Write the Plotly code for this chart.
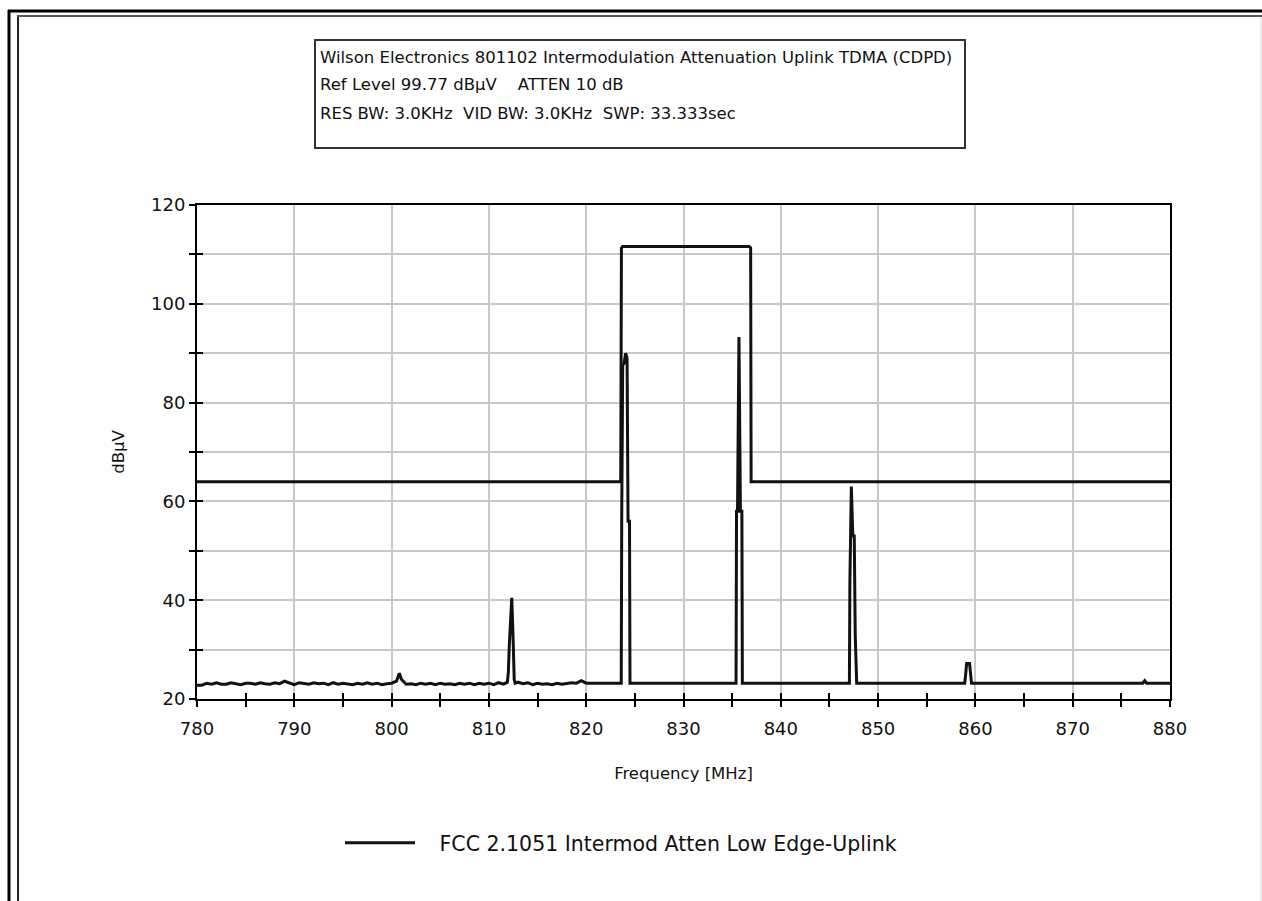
import plotly.graph_objects as go

W, H = 1262, 901

# ---------------- data ----------------
SPEC_FREQ = [
    780.0, 780.5, 781.0, 781.5, 782.0, 782.5, 783.0, 783.5, 784.0, 784.5,
    785.0, 785.5, 786.0, 786.5, 787.0, 787.5, 788.0, 788.5, 789.0, 789.5,
    790.0, 790.5, 791.0, 791.5, 792.0, 792.5, 793.0, 793.5, 794.0, 794.5,
    795.0, 795.5, 796.0, 796.5, 797.0, 797.5, 798.0, 798.5, 799.0, 799.5,
    800.0, 800.5, 800.8, 801.0, 801.5, 802.0, 802.5, 803.0, 803.5, 804.0,
    804.5, 805.0, 805.5, 806.0, 806.5, 807.0, 807.5, 808.0, 808.5, 809.0,
    809.5, 810.0, 810.5, 811.0, 811.5, 811.9,
    812.0, 812.1, 812.2, 812.35, 812.5, 812.6, 812.7,
    813.0, 813.5, 814.0, 814.5, 815.0, 815.5, 816.0, 816.5, 817.0, 817.5,
    818.0, 818.5, 819.0, 819.5, 820.0, 821.0, 822.0, 823.0, 823.6,
    823.65, 823.75, 823.9, 824.05, 824.2, 824.3, 824.45, 824.5,
    825.0, 830.0, 835.4,
    835.45, 835.55, 835.7, 835.85, 836.0, 836.05,
    836.5, 840.0, 845.0, 847.05,
    847.1, 847.25, 847.4, 847.55, 847.65, 847.75, 847.8,
    850.0, 855.0, 858.9, 859.0, 859.1, 859.4, 859.5, 859.6,
    865.0, 870.0, 877.2, 877.4, 877.6, 880.0,
]
SPEC_LEVEL = [
    22.8, 22.8, 23.2, 23.0, 23.3, 23.0, 23.0, 23.3, 23.1, 22.9,
    23.2, 23.2, 23.0, 23.3, 23.1, 23.0, 23.3, 23.1, 23.6, 23.2,
    22.9, 23.3, 23.2, 23.0, 23.3, 23.1, 23.2, 22.9, 23.3, 23.0,
    23.2, 23.1, 22.9, 23.2, 23.0, 23.3, 23.0, 23.2, 22.9, 23.1,
    23.2, 23.6, 25.2, 24.0, 23.0, 23.1, 22.9, 23.2, 23.0, 23.2,
    22.9, 23.2, 23.0, 23.1, 22.9, 23.2, 23.0, 23.2, 22.9, 23.2,
    23.0, 23.2, 22.9, 23.3, 23.0, 23.4,
    25.5, 31.0, 36.0, 40.5, 31.5, 24.0, 23.2,
    23.4, 23.1, 23.3, 22.9, 23.2, 23.0, 23.1, 22.9, 23.2, 23.0,
    23.1, 23.3, 23.2, 23.7, 23.2, 23.2, 23.2, 23.2, 23.2,
    56.0, 87.5, 88.0, 90.0, 89.0, 56.0, 56.0, 23.2,
    23.2, 23.2, 23.2,
    58.0, 58.0, 93.3, 58.0, 58.0, 23.2,
    23.2, 23.2, 23.2, 23.2,
    43.5, 63.0, 53.0, 53.0, 33.0, 24.0, 23.2,
    23.2, 23.2, 23.2, 25.0, 27.2, 27.2, 25.0, 23.2,
    23.2, 23.2, 23.2, 23.7, 23.2, 23.2,
]
MASK_FREQ = [780.0, 823.55, 823.62, 823.75, 836.75, 836.9, 836.95, 880.0]
MASK_LEVEL = [64.0, 64.0, 111.3, 111.6, 111.6, 111.3, 64.0, 64.0]

SERIES_NAME = "FCC 2.1051 Intermod Atten Low Edge-Uplink"
TITLE_LINES = [
    "Wilson Electronics 801102 Intermodulation Attenuation Uplink TDMA (CDPD)",
    "Ref Level 99.77 dB\u00b5V&nbsp;&nbsp;&nbsp;&nbsp;ATTEN 10 dB",
    "RES BW: 3.0KHz&nbsp;&nbsp;VID BW: 3.0KHz&nbsp;&nbsp;SWP: 33.333sec",
]
X_TITLE = "Frequency [MHz]"
Y_TITLE = "dB\u00b5V"

# ---------------- layout helpers (pixels -> paper) ----------------
def px(x):
    return x / W

def py(y):
    return 1 - y / H

FONT = "DejaVu Sans"
INK = "#111111"
GRID = "#c8c8c8"

fig = go.Figure()
fig.add_trace(go.Scatter(x=MASK_FREQ, y=MASK_LEVEL, mode="lines",
                         line=dict(color=INK, width=3),
                         showlegend=False, hoverinfo="skip"))
fig.add_trace(go.Scatter(x=SPEC_FREQ, y=SPEC_LEVEL, mode="lines",
                         name="&nbsp;&nbsp;&nbsp;" + SERIES_NAME,
                         line=dict(color=INK, width=3)))
# invisible single-point trace that activates the companion tick axes
fig.add_trace(go.Scatter(x=[MASK_FREQ[0]], y=[MASK_LEVEL[0]], xaxis="x2", yaxis="y2",
                         mode="lines", line=dict(width=0), showlegend=False,
                         hoverinfo="skip"))

shapes = [
    # outer frame
    dict(type="line", xref="paper", yref="paper", x0=px(9), x1=px(9), y0=py(10), y1=py(905),
         line=dict(color="black", width=3)),
    dict(type="line", xref="paper", yref="paper", x0=px(8), x1=px(1265), y0=py(11), y1=py(11),
         line=dict(color="black", width=3)),
    dict(type="line", xref="paper", yref="paper", x0=px(18), x1=px(18), y0=py(15), y1=py(905),
         line=dict(color="#222222", width=2)),
    dict(type="line", xref="paper", yref="paper", x0=px(17), x1=px(1265), y0=py(16), y1=py(16),
         line=dict(color="#555555", width=2)),
    dict(type="line", xref="paper", yref="paper", x0=px(1261), x1=px(1261), y0=py(17), y1=py(905),
         line=dict(color="#d8d8d8", width=1)),
    # title box
    dict(type="rect", xref="paper", yref="paper", x0=px(315), x1=px(965), y0=py(148), y1=py(40),
         line=dict(color="#333333", width=2), fillcolor="white"),
]

annotations = []
for txt, yy in zip(TITLE_LINES, [58, 85, 113]):
    annotations.append(dict(text=txt, xref="paper", yref="paper", x=px(318), y=py(yy),
                            xanchor="left", yanchor="middle", showarrow=False,
                            font=dict(family=FONT, size=16.5, color=INK)))

tick_common = dict(ticklen=6, tickwidth=2, tickcolor="black")

fig.update_layout(
    width=W, height=H,
    margin=dict(l=0, r=0, t=0, b=0),
    paper_bgcolor="white", plot_bgcolor="white",
    font=dict(family=FONT, size=16, color=INK),
    shapes=shapes, annotations=annotations,
    showlegend=True,
    legend=dict(x=px(340), y=py(843), xanchor="left", yanchor="middle",
                itemwidth=70, font=dict(family=FONT, size=20.5, color=INK),
                bgcolor="rgba(0,0,0,0)"),
    xaxis=dict(domain=[px(197), px(1170)], range=[780, 880], dtick=10, tick0=780,
               showline=True, linecolor="black", linewidth=2, mirror=True,
               ticks="outside", **tick_common,
               showgrid=True, gridcolor=GRID, gridwidth=2,
               minor=dict(dtick=5, ticks="outside", showgrid=False, **tick_common),
               zeroline=False, automargin=False, ticklabelstandoff=6,
               tickfont=dict(family=FONT, size=18, color=INK),
               title=dict(text=X_TITLE, font=dict(family=FONT, size=16.5, color=INK), standoff=30)),
    yaxis=dict(domain=[py(699), py(205)], range=[20, 120], dtick=20, tick0=20,
               showline=True, linecolor="black", linewidth=2, mirror=True,
               ticks="outside", **tick_common,
               showgrid=True, gridcolor=GRID, gridwidth=2,
               minor=dict(dtick=10, ticks="outside", showgrid=True, gridcolor=GRID, gridwidth=2,
                          **tick_common),
               zeroline=False, automargin=False,
               tickfont=dict(family=FONT, size=18, color=INK),
               title=dict(text=Y_TITLE, font=dict(family=FONT, size=16.5, color=INK), standoff=22)),
    # companion axes that draw the inner half of the crossing tick marks
    xaxis2=dict(overlaying="x", anchor="y2", side="bottom", range=[780, 880],
                domain=[px(197), px(1170)],
                dtick=10, tick0=780, ticks="inside", **tick_common, showticklabels=False,
                showgrid=False, showline=False, zeroline=False,
                minor=dict(dtick=5, ticks="inside", showgrid=False, **tick_common)),
    yaxis2=dict(overlaying="y", anchor="x2", side="left", range=[20, 120],
                domain=[py(699), py(205)],
                dtick=20, tick0=20, ticks="inside", **tick_common, showticklabels=False,
                showgrid=False, showline=False, zeroline=False,
                minor=dict(dtick=10, ticks="inside", showgrid=False, **tick_common)),
)

fig.write_html("out.html")
